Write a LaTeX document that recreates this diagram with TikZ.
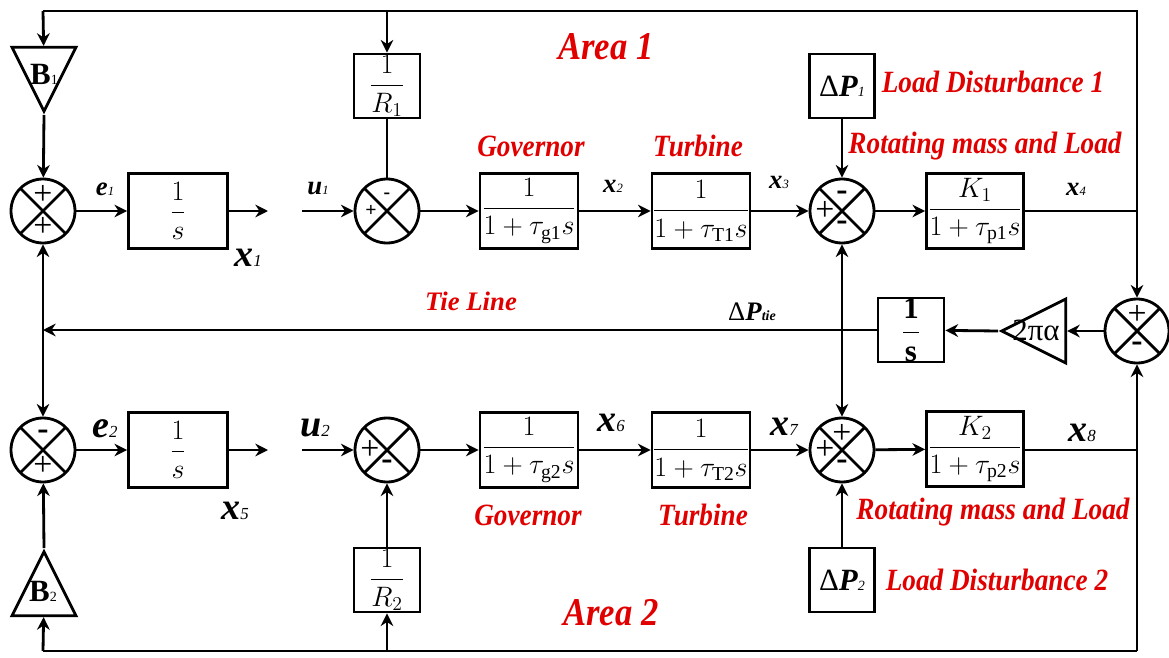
\RequirePackage{fix-cm}
\documentclass[tikz,border=0pt]{standalone}
\usepackage{amsmath}
\usepackage{fontspec}
\setmainfont{Liberation Serif}
\newfontfamily\redfont{Liberation Serif}[FakeStretch=0.88]
\usetikzlibrary{arrows.meta,shapes.geometric,calc}
\definecolor{lblred}{RGB}{225,0,0}
\newcommand{\var}[3][9]{\textbf{\textit{#2}}{\fontsize{#1}{#1}\selectfont\itshape #3}}
\begin{document}
\begin{tikzpicture}[x=0.025cm,y=-0.025cm,line width=2pt,
  blk/.style={draw,line width=2pt,fill=white,minimum width=98*0.025cm,minimum height=75*0.025cm,inner sep=0pt,font=\fontsize{20}{22}\selectfont},
  smallblk/.style={blk,minimum width=66*0.025cm,minimum height=64*0.025cm},
  sumc/.style={circle,draw,line width=2pt,minimum size=64*0.025cm,inner sep=0pt,
    path picture={\draw[line width=2pt] (path picture bounding box.north west)--(path picture bounding box.south east)
      (path picture bounding box.north east)--(path picture bounding box.south west);}},
  gain/.style={isosceles triangle,isosceles triangle stretches,draw,line width=2pt,minimum width=64*0.025cm,minimum height=64*0.025cm,inner sep=0pt,anchor=apex},
  sgn/.style={font=\fontsize{24}{24}\selectfont,inner sep=0pt},
  sgs/.style={font=\fontsize{14}{14}\selectfont\bfseries,inner sep=0pt},
  redlbl/.style={text=lblred,font=\redfont\bfseries\itshape\fontsize{22}{24}\selectfont},
  area/.style={redlbl,font=\redfont\bfseries\itshape\fontsize{28}{30}\selectfont},
  sig/.style={font=\fontsize{19}{21}\selectfont},
  bigsig/.style={font=\fontsize{27}{29}\selectfont},
  arr/.style={-{Stealth[length=9pt,width=9pt]}}]
\useasboundingbox (0,0) rectangle (1169,657);
% area 1
\node[gain,shape border rotate=270] (b1) at (44,115) {};
\node[font=\fontsize{22}{24}\selectfont] (b1t) at (44,74) {\textbf{B}{\fontsize{10}{10}\selectfont 1}};
\node[sumc] (s1) at (43,211) {};
\node[blk,minimum width=99*0.025cm] (i1) at (178,211) {$\dfrac{1}{s}$};
\node[smallblk] (r1) at (387,86) {$\dfrac{1}{R_1}$};
\node[sumc] (s2) at (387,211) {};
\node[blk] (g1) at (529,211) {$\dfrac{1}{1+\tau_{\mathrm{g1}}s}$};
\node[blk] (t1) at (701,211) {$\dfrac{1}{1+\tau_{\mathrm{T1}}s}$};
\node[smallblk,minimum width=65*0.025cm] (d1) at (842,86) {\fontsize{22}{24}\selectfont Δ\var[10]{P}{1}};
\node[sumc] (s3) at (842,211) {};
\node[blk,minimum width=97*0.025cm] (k1) at (975,211) {$\dfrac{K_1}{1+\tau_{\mathrm{p1}}s}$};
\coordinate (o1) at (268,211);
\coordinate (u1in) at (302,211);
\coordinate (j4) at (1137,211);
\coordinate (tl) at (43,11);
\coordinate (tm) at (387,11);
\coordinate (tr) at (1137,11);
% signs area 1
\node[sgn] at ($(s1)+(0,-16)$) {+};
\node[sgn] at ($(s1)+(0,16)$) {+};
\node[sgs] at ($(s2)+(0,-15)$) {-};
\node[sgs] at ($(s2)+(-16,0)$) {+};
\node[sgn] at ($(s3)+(0,-15)$) {\textbf{-}};
\node[sgn] at ($(s3)+(-17,0)$) {+};
\node[sgn] at ($(s3)+(0,15)$) {\textbf{-}};
% tie line
\node[sumc] (s4) at (1137,331) {};
\node[gain,shape border rotate=180] (pa) at (998,331) {};
\node[font=\fontsize{22}{24}\selectfont] (pat) at (1036,330) {2πα};
\node[smallblk] (ti) at (911,330) {\fontsize{22}{24}\selectfont$\dfrac{\mathbf{1}}{\mathbf{s}}$};
\coordinate (jt) at (842,330);
\coordinate (jl) at (43,330);
\node[sgn] at ($(s4)+(0,-16)$) {+};
\node[sgn] at ($(s4)+(0,16)$) {\textbf{-}};
% area 2
\node[sumc] (s5) at (43,450) {};
\node[blk,minimum width=99*0.025cm] (i2) at (178,450) {$\dfrac{1}{s}$};
\node[sumc] (s6) at (387,450) {};
\node[smallblk] (r2) at (387,580) {$\dfrac{1}{R_2}$};
\node[gain,shape border rotate=90] (b2) at (44,548) {};
\node[font=\fontsize{22}{24}\selectfont] (b2t) at (43,591) {\textbf{B}{\fontsize{10}{10}\selectfont 2}};
\node[blk] (g2) at (529,450) {$\dfrac{1}{1+\tau_{\mathrm{g2}}s}$};
\node[blk] (t2) at (701,450) {$\dfrac{1}{1+\tau_{\mathrm{T2}}s}$};
\node[sumc] (s7) at (842,450) {};
\node[smallblk,minimum width=65*0.025cm] (d2) at (842,580) {\fontsize{22}{24}\selectfont Δ\var[10]{P}{2}};
\node[blk,minimum width=97*0.025cm] (k2) at (975,449) {$\dfrac{K_2}{1+\tau_{\mathrm{p2}}s}$};
\coordinate (o2) at (268,450);
\coordinate (u2in) at (302,450);
\coordinate (j8) at (1137,450);
\coordinate (bl) at (43,651);
\coordinate (bm) at (387,651);
\coordinate (br) at (1137,651);
% signs area 2
\node[sgn] at ($(s5)+(0,-15)$) {\textbf{-}};
\node[sgn] at ($(s5)+(0,16)$) {+};
\node[sgn] at ($(s6)+(-17,0)$) {+};
\node[sgn] at ($(s6)+(0,15)$) {\textbf{-}};
\node[sgn] at ($(s7)+(0,-16)$) {+};
\node[sgn] at ($(s7)+(-17,0)$) {+};
\node[sgn] at ($(s7)+(0,15)$) {\textbf{-}};
% connectors area 1
\draw (j4) -- (tr) -- (tl);
\draw[arr] (tl) -- (b1);
\draw[arr] (tm) -- (r1);
\draw[arr] (b1.apex) -- (s1);
\draw[arr] (s1) -- (i1);
\draw[arr] (i1) -- (o1);
\draw[arr] (u1in) -- (s2);
\draw (r1) -- (s2);
\draw[arr] (s2) -- (g1);
\draw[arr] (g1) -- (t1);
\draw[arr] (t1) -- (s3);
\draw[arr] (d1) -- (s3);
\draw[arr] (s3) -- (k1);
\draw (k1) -- (j4);
\draw[arr] (j4) -- (s4);
% connectors tie line
\draw[arr] (s4) -- (pa);
\draw[arr] (pa.apex) -- (ti);
\draw[arr] (ti) -- (jt) -- (jl);
\draw[arr] (jl) -- (s1);
\draw[arr] (jl) -- (s5);
\draw[arr] (jt) -- (s3);
\draw[arr] (jt) -- (s7);
% connectors area 2
\draw[arr] (s5) -- (i2);
\draw[arr] (i2) -- (o2);
\draw[arr] (u2in) -- (s6);
\draw[arr] (s6) -- (g2);
\draw[arr] (g2) -- (t2);
\draw[arr] (t2) -- (s7);
\draw[arr] (s7) -- (k2);
\draw (k2.east |- j8) -- (j8);
\draw[arr] (d2) -- (s7);
\draw[arr] (r2) -- (s6);
\draw[arr] (b2.apex) -- (s5);
\draw (bl) -- (br);
\draw[arr] (br) -- (s4);
\draw[arr] (bl) -- (b2);
\draw[arr] (bm) -- (r2);
% signal labels
\node[sig] (le1) at (105,189) {\var{e}{1}};
\node[sig] (lu1) at (318,189) {\var{u}{1}};
\node[bigsig] (lx1) at (248,258) {\var[12]{x}{1}};
\node[sig] (lx2) at (613,186) {\var{x}{2}};
\node[sig] (lx3) at (779,182) {\var{x}{3}};
\node[sig] (lx4) at (1076,189) {\var{x}{4}};
\node[bigsig] (le2) at (105,429) {\var[12]{e}{2}};
\node[bigsig] (lu2) at (315,428) {\var[12]{u}{2}};
\node[bigsig] (lx5) at (235,511) {\var[12]{x}{5}};
\node[bigsig] (lx6) at (611,423) {\var[12]{x}{6}};
\node[bigsig] (lx7) at (784,427) {\var[12]{x}{7}};
\node[bigsig] (lx8) at (1082,433) {\var[12]{x}{8}};
\node[sig] (lpt) at (752,312) {Δ\var[10]{P}{\bfseries tie}};
% red labels
\node[area] (a1) at (606,47) {Area 1};
\node[redlbl] (lg1) at (531,146) {Governor};
\node[redlbl] (lt1) at (698,146) {Turbine};
\node[redlbl] (lr1) at (985,146) {Rotating mass and Load};
\node[redlbl] (ld1) at (993,82) {Load Disturbance 1};
\node[text=lblred,font=\bfseries\itshape\fontsize{19}{21}\selectfont] (ltl) at (471,301) {Tie Line};
\node[redlbl] (lg2) at (528,515) {Governor};
\node[redlbl] (lt2) at (703,515) {Turbine};
\node[redlbl] (lr2) at (993,512) {Rotating mass and Load};
\node[redlbl] (ld2) at (997,580) {Load Disturbance 2};
\node[area] (a2) at (611,613) {Area 2};
\end{tikzpicture}
\end{document}
